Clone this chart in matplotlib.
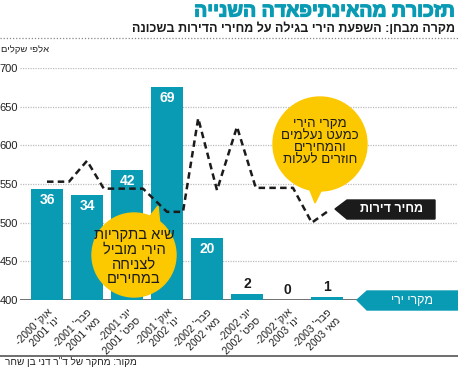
import re
import matplotlib
matplotlib.use('Agg')
import matplotlib.pyplot as plt
from matplotlib.patches import Circle, Polygon
import matplotlib.patheffects as pe

plt.rcParams['font.family'] = ['Liberation Sans', 'DejaVu Sans']

# ----------------------------------------------------------------------------------------------------------------------
# data
periods = ["אוק' 2000-\nינו' 2001", "פבר' 2001-\nמאי 2001", "יוני 2001-\nספט' 2001", "אוק' 2001-\nינו' 2002",
           "פבר' 2002-\nמאי 2002", "יוני 2002-\nספט' 2002", "אוק' 2002-\nינו' 2003", "פבר' 2003-\nמאי 2003"]
shootings = [36, 34, 42, 69, 20, 2, 0, 1]

# apartment price (thousand NIS), x in period units
price_x = [0, 0.55, 1.0, 1.42, 2.4, 3.0, 3.4, 3.78, 4.25, 4.75, 5.22, 6.15, 6.62, 7.0]
price_y = [553, 553, 580, 544, 544, 514, 514, 635, 542, 624, 545, 545, 500, 514]

price_ticks = [400, 450, 500, 550, 600, 650, 700]

TEAL = '#0a9bb4'
YELLOW = '#fcc800'
DARK = '#1b1b1b'


def vis(s):
    # hebrew to visual order, numbers kept left to right
    out = []
    for line in s.split('\n'):
        r = line[::-1]
        out.append(re.sub(r'\d+', lambda m: m.group(0)[::-1], r))
    return '\n'.join(out)


W, H = 458, 368


def frac(x0, y0, x1, y1):
    return [x0 / W, 1 - y1 / H, (x1 - x0) / W, (y1 - y0) / H]


fig = plt.figure(figsize=(W / 100, H / 100), dpi=100)
fig.patch.set_facecolor('white')

# base axis: grid + price ticks
ax = fig.add_axes(frac(20, 68, 458, 300))
xl = (-0.675, 10.275)
ax.set_xlim(*xl)
ax.set_ylim(400, 700)
for s in ax.spines.values():
    s.set_visible(False)
for v in price_ticks[1:]:
    ax.axhline(v, color='#bdbdbd', lw=0.9, ls=(0, (1, 1)), zorder=0)
ax.axhline(400, xmax=(357 - 20) / 438, color='#666666', lw=1.3, zorder=5)
ax.set_yticks(price_ticks)
ax.set_yticklabels([str(v) for v in price_ticks], fontsize=8, color='#222222')
ax.tick_params(axis='y', length=0, pad=1.5)
ax.set_xticks(range(len(periods)))
ax.set_xticklabels([vis(p) for p in periods], rotation=45, ha='right', va='top',
                   rotation_mode='anchor', fontsize=7.5, color='#222222', multialignment='right')
ax.tick_params(axis='x', length=0, pad=5)

# bars: number of shootings
axn = ax.twinx()
axn.set_ylim(0, 75)
axn.set_xlim(*xl)
axn.axis('off')
axn.bar(range(len(shootings)), shootings, width=0.78, color=TEAL, zorder=2)
for i, n in enumerate(shootings):
    if n >= 10:
        axn.annotate(str(n), (i, n), xytext=(0, -3), textcoords='offset points', ha='center', va='top',
                     color='white', fontsize=10, fontweight='bold')
    else:
        axn.annotate(str(n), (i, n), xytext=(0, 2), textcoords='offset points', ha='center', va='bottom',
                     color=DARK, fontsize=10, fontweight='bold')

# line: prices
axl = ax.twinx()
axl.set_ylim(400, 700)
axl.set_xlim(*xl)
axl.axis('off')
axl.plot(price_x, price_y, color=DARK, lw=1.8, ls=(0, (2.6, 1.7)), clip_on=False)

# overlay in pixel coordinates for the decorations
ov = fig.add_axes([0, 0, 1, 1])
ov.set_xlim(0, W)
ov.set_ylim(H, 0)
ov.axis('off')

ov.text(455, 12, vis('תזכורת מהאינתיפאדה השנייה'), ha='right', va='center', fontsize=14,
        fontweight='bold', color=TEAL,
        path_effects=[pe.withStroke(linewidth=0.9, foreground=TEAL)])
ov.text(455, 29, vis('מקרה מבחן: השפעת הירי בגילה על מחירי הדירות בשכונה'), ha='right', va='center',
        fontsize=9, fontweight='bold', color=DARK)
ov.plot([0, W], [38, 38], color='#888888', lw=0.9, ls=(0, (1, 1.5)))
ov.text(1, 50, vis('אלפי שקלים'), ha='left', va='center', fontsize=6.8, color='#222222')

# bubbles
ov.add_patch(Polygon([[147, 220], [160, 226], [158, 206]], closed=True, color=YELLOW, zorder=6))
ov.add_patch(Circle((134, 255), 42, color=YELLOW, zorder=6))
ov.text(134, 257, vis('שיא בתקריות\nהירי מוביל\nלצניחה\nבמחירים'), ha='center', va='center',
        fontsize=10.5, color=DARK, linespacing=1.05, zorder=7)

ov.add_patch(Polygon([[308, 185], [324, 185], [315, 203]], closed=True, color=YELLOW, zorder=6))
ov.add_patch(Circle((320, 144), 47, color=YELLOW, zorder=6))
ov.text(320, 142, vis('מקרי הירי\nכמעט נעלמים\nוהמחירים\nחוזרים לעלות'), ha='center', va='center',
        fontsize=9.5, color=DARK, linespacing=1.0, zorder=7)

# series labels
ov.add_patch(Polygon([[335, 209], [347, 200], [435, 200], [435, 219], [347, 219]], closed=True,
                     color=DARK, zorder=6))
ov.text(391, 209.5, vis('מחיר דירות'), ha='center', va='center', fontsize=9, fontweight='bold',
        color='white', zorder=7)
ov.add_patch(Polygon([[357, 300], [367, 291], [458, 291], [458, 310], [367, 310]], closed=True,
                     color=TEAL, zorder=6))
ov.text(412, 300.5, vis('מקרי ירי'), ha='center', va='center', fontsize=9, color='white', zorder=7)

# footer
ov.plot([0, W], [356, 356], color='#555555', lw=1.2)
ov.text(137, 362, vis('מקור: מחקר של ד"ר דני בן שחר'), ha='right', va='center', fontsize=7.2,
        color='#222222')

fig.savefig('out.png', dpi=100)
